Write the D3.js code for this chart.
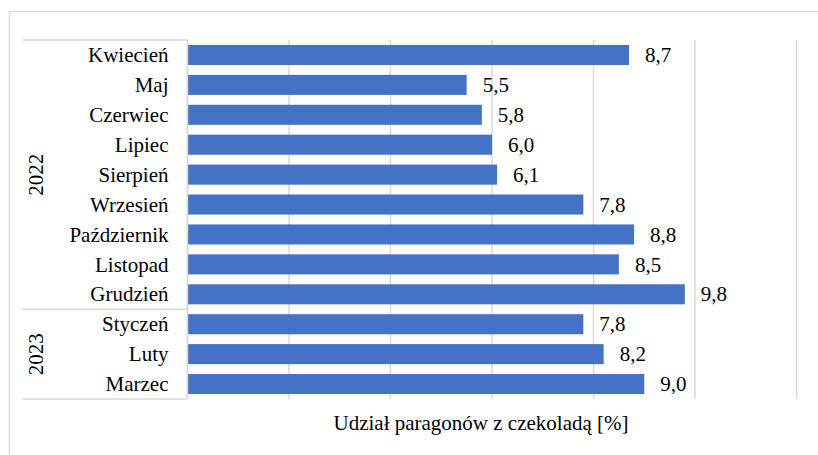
<!DOCTYPE html>
<html>
<head>
<meta charset="utf-8">
<script src="https://cdn.jsdelivr.net/npm/d3@7"></script>
<style>
  body { margin: 0; background: #fff; }
</style>
</head>
<body>
<div class="chart"></div>
<script>
// data
const months = ["Kwiecień", "Maj", "Czerwiec", "Lipiec", "Sierpień", "Wrzesień",
                "Październik", "Listopad", "Grudzień", "Styczeń", "Luty", "Marzec"];
const shares = [8.7, 5.5, 5.8, 6.0, 6.1, 7.8, 8.8, 8.5, 9.8, 7.8, 8.2, 9.0];
const years = ["2022", "2023"];
const yearLast = ["Grudzień", "Marzec"];
const xTicks = [0, 2, 4, 6, 8, 10, 12];
const axisTitle = "Udział paragonów z czekoladą [%]";

const width = 818, height = 455;
const plot = {left: 187.5, right: 796.5, top: 40, bottom: 399};
const serif = "'Liberation Serif'";

const svg = d3.select('.chart')
              .append('svg')
              .attr('width', width)
              .attr('height', height);

// helper so every label gets the same font
function label(sel) {
  return sel.style("font-family", serif)
            .style("font-size", "21px")
            .attr("fill", "#000");
}

// outer frame
svg.append("rect")
   .attr("x", 9.5).attr("y", 11.5)
   .attr("width", 830).attr("height", 460)
   .attr("fill", "white")
   .attr("stroke", "#d9d9d9")
   .attr("stroke-width", 1.5);

const x = d3.scaleLinear()
            .domain([0, 12])
            .range([plot.left, plot.right]);

const y = d3.scaleBand()
            .domain(months)
            .range([plot.top, plot.bottom])
            .paddingInner(0.33)
            .paddingOuter(0.165);

// gridlines
svg.append("g")
   .selectAll("line")
   .data(xTicks)
   .enter()
   .append("line")
   .attr("x1", d => x(d)).attr("x2", d => x(d))
   .attr("y1", plot.top).attr("y2", plot.bottom)
   .attr("stroke", "#d9d9d9")
   .attr("stroke-width", 1.5);

// category axis lines (multi-level)
const sep = [plot.top].concat(yearLast.map(m => y(m) + y.bandwidth() + y.step() * y.paddingInner() / 2));
sep[sep.length - 1] = plot.bottom;
svg.append("g")
   .selectAll("line")
   .data(sep)
   .enter()
   .append("line")
   .attr("x1", 23).attr("x2", plot.left)
   .attr("y1", d => d).attr("y2", d => d)
   .attr("stroke", "#d9d9d9")
   .attr("stroke-width", 1.5);

// bars
svg.append("g")
   .selectAll("rect")
   .data(months)
   .enter()
   .append("rect")
   .attr("x", x(0))
   .attr("y", d => y(d))
   .attr("width", (d, i) => x(shares[i]) - x(0))
   .attr("height", y.bandwidth())
   .attr("fill", "#4472c4");

// value labels
svg.append("g")
   .selectAll("text")
   .data(months)
   .enter()
   .append("text")
   .call(label)
   .attr("x", (d, i) => x(shares[i]) + 16)
   .attr("y", d => y(d) + y.bandwidth() / 2)
   .attr("dy", "0.34em")
   .text((d, i) => shares[i].toFixed(1).replace(".", ","));

// month labels
svg.append("g")
   .selectAll("text")
   .data(months)
   .enter()
   .append("text")
   .call(label)
   .attr("x", plot.left - 19)
   .attr("y", d => y(d) + y.bandwidth() / 2)
   .attr("dy", "0.34em")
   .attr("text-anchor", "end")
   .text(d => d);

// year labels
svg.append("g")
   .selectAll("text")
   .data(years)
   .enter()
   .append("text")
   .call(label)
   .attr("transform", (d, i) => "translate(36," + ((sep[i] + sep[i + 1]) / 2) + ") rotate(-90)")
   .attr("dy", "0.34em")
   .attr("text-anchor", "middle")
   .text(d => d);

// vertical category axis line
svg.append("line")
   .attr("x1", plot.left).attr("x2", plot.left)
   .attr("y1", plot.top).attr("y2", plot.bottom)
   .attr("stroke", "#d9d9d9")
   .attr("stroke-width", 1.5);

// axis title
svg.append("text")
   .call(label)
   .attr("x", 481)
   .attr("y", 430)
   .attr("text-anchor", "middle")
   .text(axisTitle);
</script>
</body>
</html>
